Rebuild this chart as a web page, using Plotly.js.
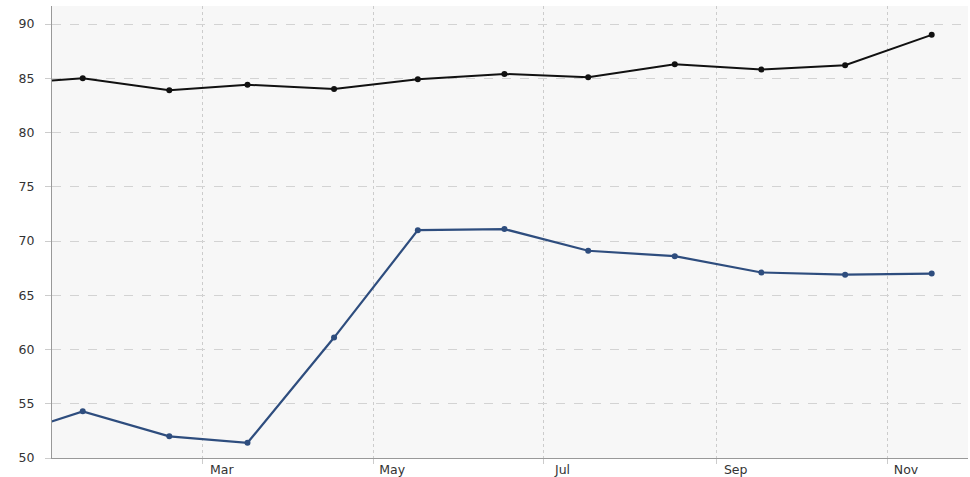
<!DOCTYPE html>
<html>
<head>
<meta charset="utf-8">
<script src="https://cdn.plot.ly/plotly-3.0.1.min.js"></script>
<style>html,body{margin:0;padding:0;background:#fff;}#chart{width:970px;height:477px;}</style>
</head>
<body>
<div id="chart"></div>
<script>
var dates = ["2018-12-17","2019-01-17","2019-02-17","2019-03-17","2019-04-17","2019-05-17","2019-06-17","2019-07-17","2019-08-17","2019-09-17","2019-10-17","2019-11-17"];
var seriesTop = [84.4, 85.0, 83.9, 84.4, 84.0, 84.9, 85.4, 85.1, 86.3, 85.8, 86.2, 89.0];
var seriesBottom = [51.7, 54.3, 52.0, 51.4, 61.1, 71.0, 71.1, 69.1, 68.6, 67.1, 66.9, 67.0];
var yTicks = [50, 55, 60, 65, 70, 75, 80, 85, 90];
var xTicks = ["2019-03-01","2019-05-01","2019-07-01","2019-09-01","2019-11-01"];
var xTickText = ["Mar","May","Jul","Sep","Nov"];

var traces = [
  {x: dates, y: seriesTop, type: "scatter", mode: "lines+markers",
   line: {color: "#111111", width: 2}, marker: {color: "#111111", size: 6}, cliponaxis: true},
  {x: dates, y: seriesBottom, type: "scatter", mode: "lines+markers",
   line: {color: "#2e4d7e", width: 2.2}, marker: {color: "#2e4d7e", size: 6}, cliponaxis: true}
];

var layout = {
  width: 970, height: 477,
  margin: {l: 52, r: 2, t: 6, b: 19},
  paper_bgcolor: "#ffffff",
  plot_bgcolor: "#f7f7f7",
  showlegend: false,
  font: {family: "DejaVu Sans, Verdana, sans-serif", size: 12.5, color: "#333"},
  xaxis: {
    type: "date",
    range: ["2019-01-06", "2019-11-30"],
    tickmode: "array", tickvals: xTicks, ticktext: xTickText,
    showgrid: true, gridcolor: "#cccccc", griddash: "dot", gridwidth: 1,
    showline: true, linecolor: "#999999", linewidth: 1,
    ticks: "outside", ticklen: 5, tickcolor: "#cccccc",
    ticklabelshift: 19, ticklabelstandoff: -5,
    zeroline: false, fixedrange: true
  },
  yaxis: {
    range: [50, 91.66],
    tickmode: "array", tickvals: yTicks,
    showgrid: true, gridcolor: "#d3d3d3", griddash: "dash", gridwidth: 1,
    showline: true, linecolor: "#999999", linewidth: 1,
    ticks: "outside", ticklen: 6, tickcolor: "#cccccc",
    ticklabelstandoff: 8,
    zeroline: false, fixedrange: true
  }
};

Plotly.newPlot("chart", traces, layout, {displayModeBar: false, staticPlot: true});
</script>
</body>
</html>
